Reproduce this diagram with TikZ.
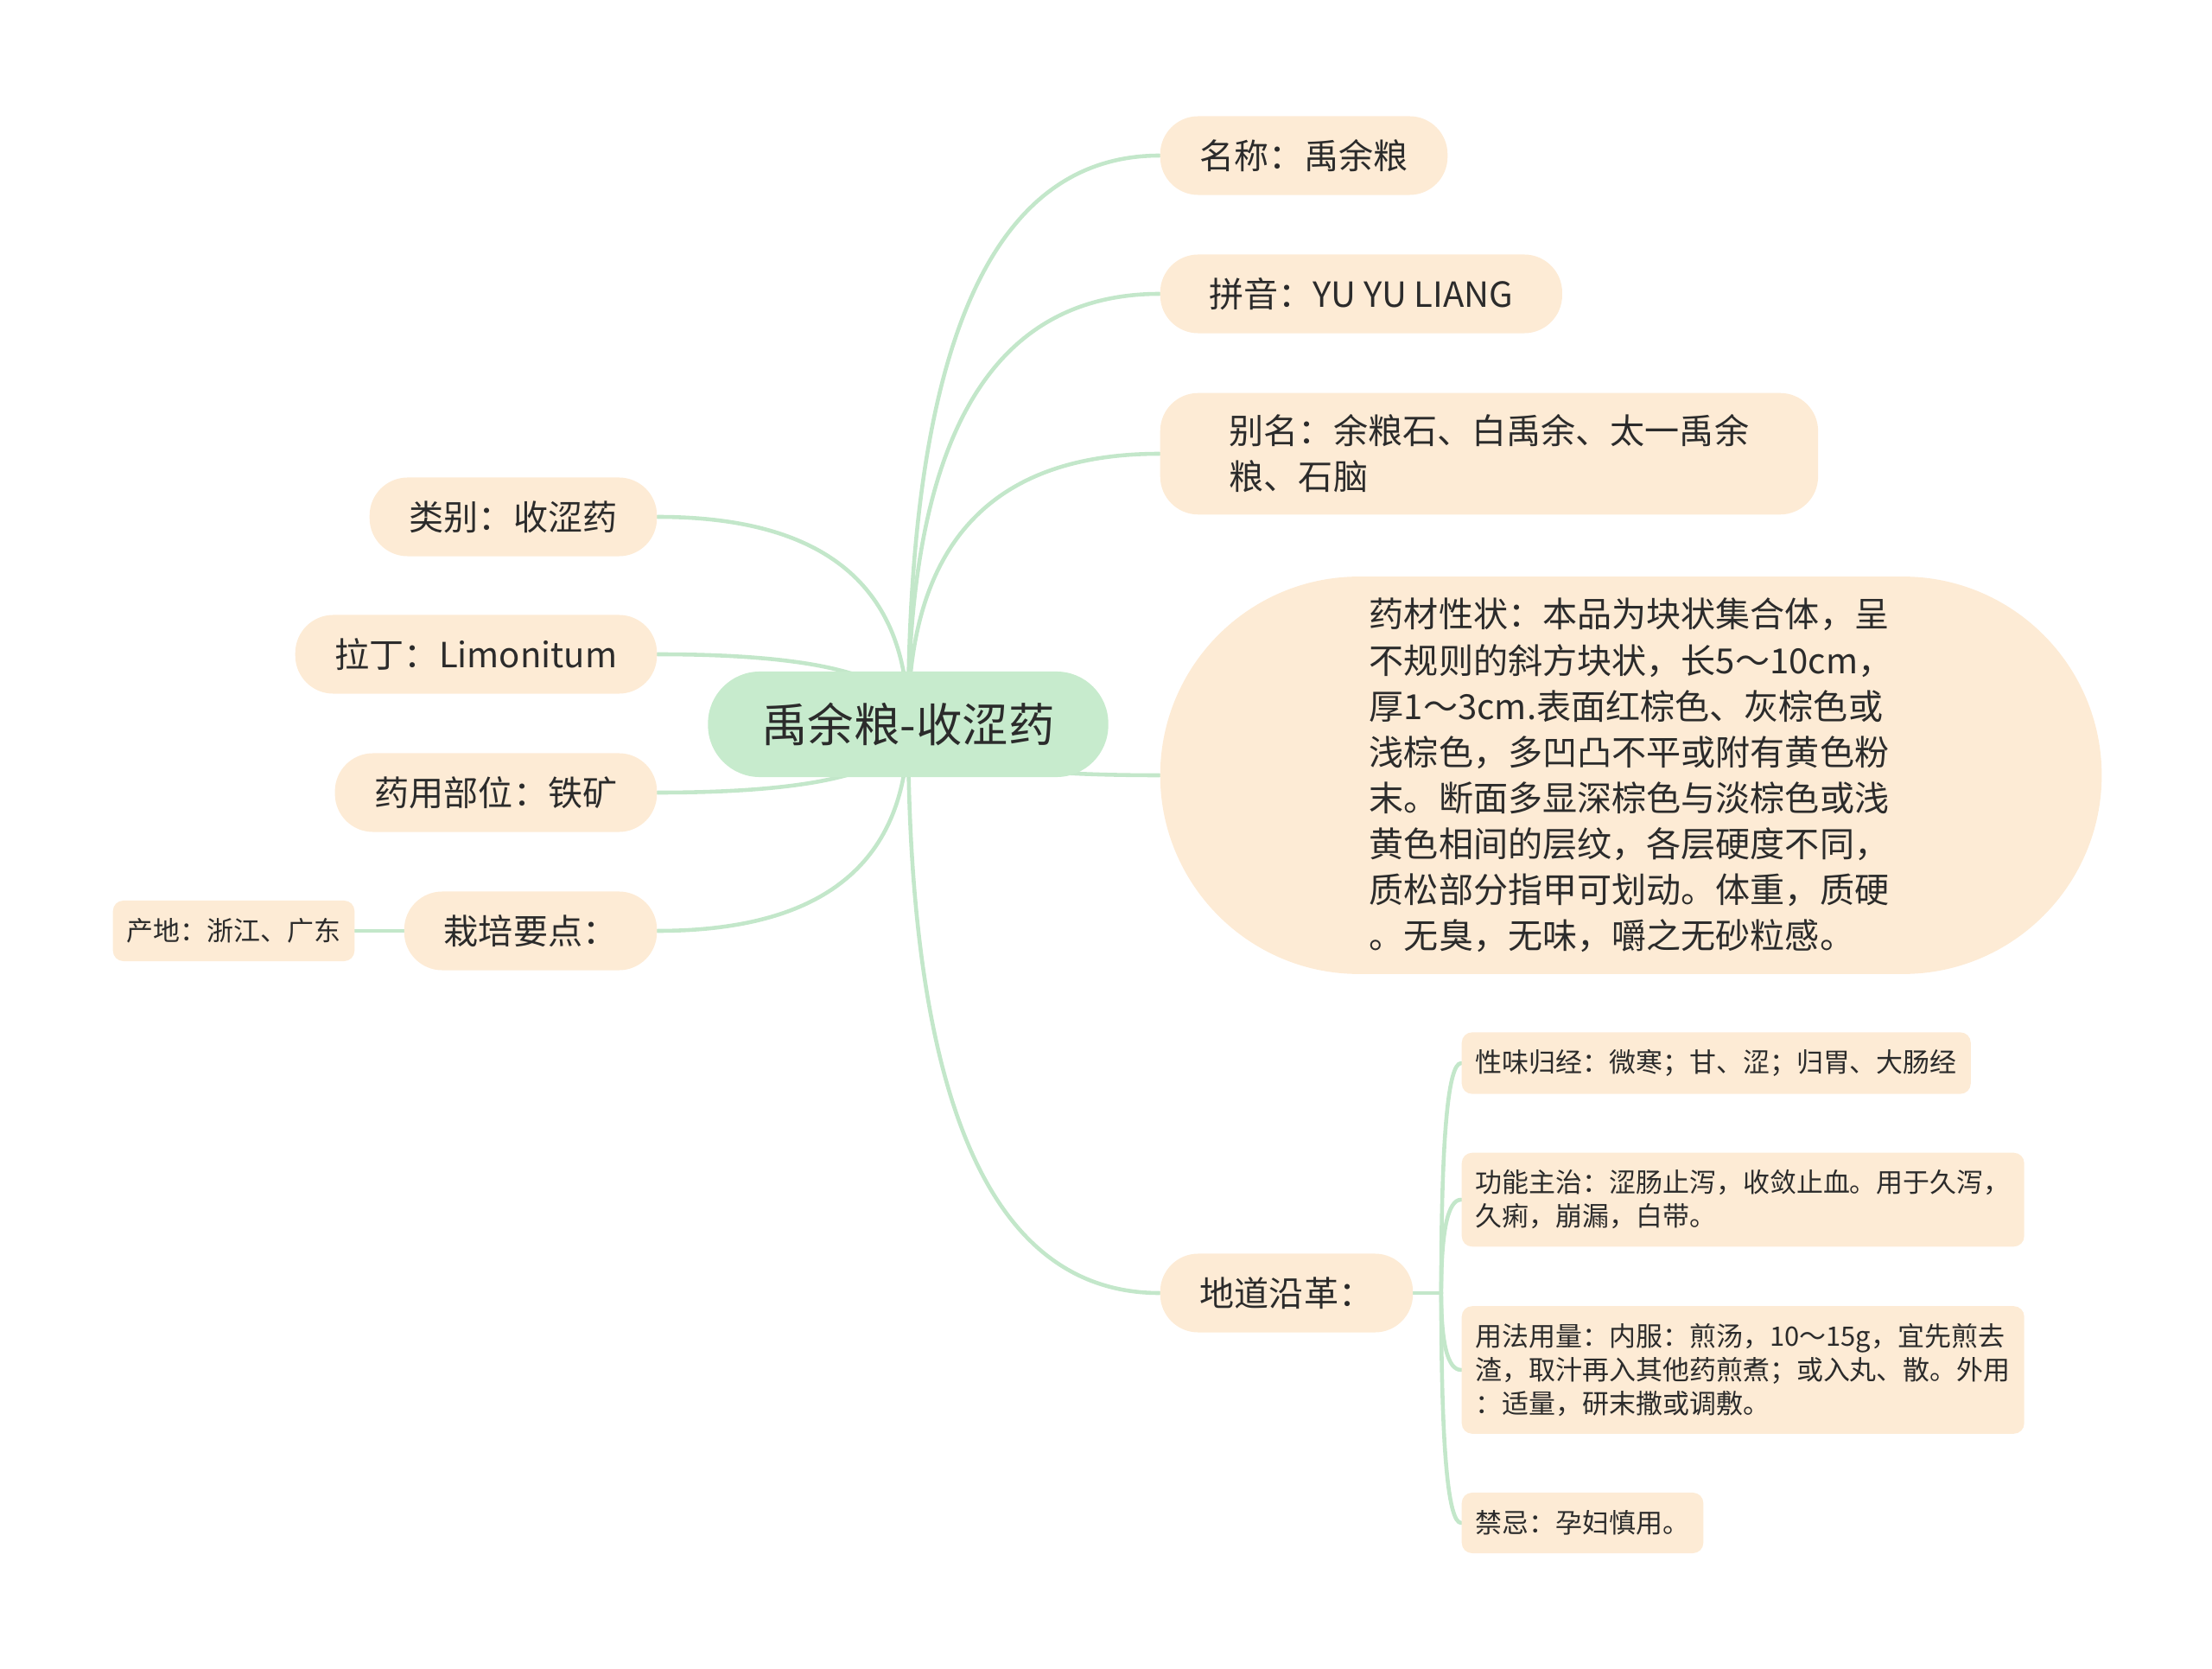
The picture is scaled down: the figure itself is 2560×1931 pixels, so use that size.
\documentclass[tikz,border=0pt]{standalone}
\usepackage{fontspec}
\setmainfont{Noto Sans CJK SC}
\usetikzlibrary{backgrounds,calc}
\definecolor{peach}{HTML}{FDEBD5}
\definecolor{mint}{HTML}{C7EBCD}
\definecolor{linkgreen}{HTML}{C3E7CA}
\definecolor{ink}{HTML}{2B2B2B}

\begin{document}
\begin{tikzpicture}[x=0.01cm,y=-0.01cm,
	topic/.style={fill=peach,text=ink,font=\fontsize{11.4pt}{15.1pt}\selectfont,inner xsep=0.46cm,inner ysep=0.25cm,minimum height=0.91cm,rounded corners=0.44cm,align=left},
	sub/.style={fill=peach,text=ink,font=\fontsize{8.8pt}{11.1pt}\selectfont,inner xsep=0.16cm,inner ysep=0.2cm,minimum height=0.7cm,rounded corners=0.12cm,align=left},
	link/.style={draw=linkgreen,line width=1.3pt,line cap=round}]
	\useasboundingbox (0,0) rectangle (2560,1931);
	\node[fill=mint,text=ink,font=\fontsize{15.2pt}{18pt}\selectfont,inner xsep=0.62cm,minimum height=1.22cm,rounded corners=0.6cm] (root) at (1051,838) {禹余粮-收涩药};
	\node[topic,anchor=west] (name) at (1342,180) {名称：禹余粮};
	\node[topic,anchor=west,minimum width=4.65cm] (pinyin) at (1342,340) {拼音：YU YU LIANG};
	\node[topic,anchor=west,inner xsep=0.8cm] (alias) at (1342,525) {别名：余粮石、白禹余、太一禹余\\粮、石脑};
	\node[topic,anchor=west,inner xsep=2.42cm,rounded corners=2.3cm] (shape) at (1342,897) {药材性状：本品为块状集合体，呈\\不规则的斜方块状，长5～10cm，\\厚1～3cm.表面红棕色、灰棕色或\\浅棕色，多凹凸不平或附有黄色粉\\末。断面多显深棕色与淡棕色或浅\\黄色相间的层纹，各层硬度不同，\\质松部分指甲可划动。体重，质硬\\。无臭，无味，嚼之无砂粒感。};
	\node[topic,anchor=west] (origin) at (1342,1496) {地道沿革：};
	\node[sub,anchor=west] (taste) at (1691,1230) {性味归经：微寒；甘、涩；归胃、大肠经};
	\node[sub,anchor=west] (func) at (1691,1388) {功能主治：涩肠止泻，收敛止血。用于久泻，\\久痢，崩漏，白带。};
	\node[sub,anchor=west] (usage) at (1691,1585) {用法用量：内服：煎汤，10～15g，宜先煎去\\渣，取汁再入其他药煎煮；或入丸、散。外用\\：适量，研末撒或调敷。};
	\node[sub,anchor=west] (taboo) at (1691,1762) {禁忌：孕妇慎用。};
	\node[topic,anchor=east] (kind) at (761,598) {类别：收涩药};
	\node[topic,anchor=east] (latin) at (761,757) {拉丁：Limonitum};
	\node[topic,anchor=east] (part) at (761,917) {药用部位：铁矿};
	\node[topic,anchor=east] (grow) at (761,1077) {栽培要点：};
	\node[sub,anchor=east] (place) at (411,1077) {产地：浙江、广东};
	\begin{scope}[on background layer]
		\foreach \n in {name,pinyin,alias,shape,origin}
			\draw[link] (root.center) .. controls ($(root.center)!0.667!(root.center |- \n.west)$) and ($(\n.west)!0.667!(root.center |- \n.west)$) .. (\n.west);
		\foreach \n in {kind,latin,part,grow}
			\draw[link] (root.center) .. controls ($(root.center)!0.667!(root.center |- \n.east)$) and ($(\n.east)!0.667!(root.center |- \n.east)$) .. (\n.east);
		\coordinate (fork) at ([xshift=0.32cm]origin.east);
		\draw[link] (origin.east) -- (fork);
		\foreach \n in {taste,func,usage,taboo}
			\draw[link] (fork) .. controls ($(fork)!0.667!(fork |- \n.west)$) and ($(\n.west)!0.667!(fork |- \n.west)$) .. (\n.west);
		\draw[link] (grow.west) -- (place.east);
	\end{scope}
\end{tikzpicture}
\end{document}
